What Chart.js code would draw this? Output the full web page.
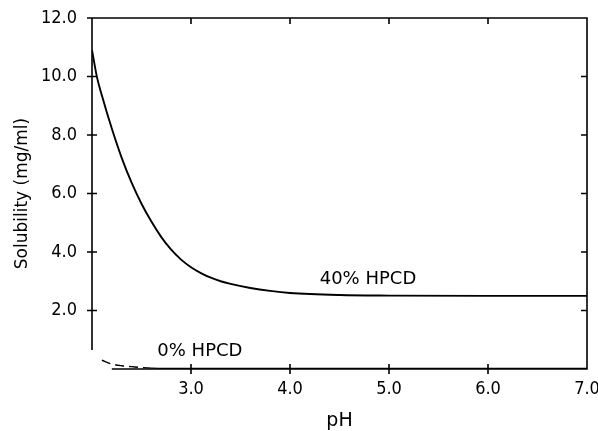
<!DOCTYPE html>
<html>
<head>
<meta charset="utf-8">
<script src="https://cdn.jsdelivr.net/npm/chart.js@4/dist/chart.umd.min.js"></script>
<style>
  html, body { margin: 0; padding: 0; background: #fff; }
  #wrap { width: 598px; height: 431px; }
</style>
</head>
<body>
<div id="wrap"><canvas id="chart" width="598" height="431"></canvas></div>
<script>
// 40% HPCD curve (pH vs solubility mg/ml)
const phHigh = [2.0, 2.05, 2.1, 2.2, 2.3, 2.4, 2.5, 2.6, 2.7, 2.8, 2.9, 3.0, 3.1, 3.2, 3.3, 3.4, 3.6, 3.8, 4.0, 4.5, 5.0, 6.0, 7.0];
const solHigh = [10.9, 9.98, 9.35, 8.22, 7.22, 6.37, 5.65, 5.04, 4.51, 4.08, 3.74, 3.48, 3.28, 3.12, 3.0, 2.91, 2.77, 2.67, 2.6, 2.53, 2.51, 2.5, 2.5];

// 0% HPCD curve
const phZero = [2.1, 2.2, 2.3, 2.4, 2.5, 2.6, 3.0, 4.0, 5.0, 6.0, 7.0];
const solZero = [0.3, 0.17, 0.11, 0.08, 0.05, 0.03, 0.02, 0.02, 0.02, 0.02, 0.02];
const dashUntil = 2.6;

const xTicks = [3, 4, 5, 6, 7];
const yTicks = [2, 4, 6, 8, 10, 12];

const labels = ['40% HPCD', '0% HPCD'];
const labelPos = [[4.3, 3.07], [2.66, 0.6]];

const FONT = '"DejaVu Sans", sans-serif';
const NARROW = '"Liberation Sans Narrow", "DejaVu Sans Condensed", "Liberation Sans", sans-serif';

// draws the broken frame with crossing / inward tick marks
const frame = {
  id: 'frame',
  afterDatasetsDraw(chart) {
    const { ctx, scales: { x, y } } = chart;
    ctx.save();
    ctx.strokeStyle = '#000';
    ctx.lineWidth = 1.6;
    ctx.beginPath();
    // left axis stops short of the corner
    ctx.moveTo(x.getPixelForValue(2), y.getPixelForValue(0.65));
    ctx.lineTo(x.getPixelForValue(2), y.getPixelForValue(12));
    ctx.lineTo(x.getPixelForValue(7), y.getPixelForValue(12));
    ctx.lineTo(x.getPixelForValue(7), y.getPixelForValue(0));
    ctx.lineTo(x.getPixelForValue(2.2), y.getPixelForValue(0));
    yTicks.forEach((v) => {
      const py = y.getPixelForValue(v);
      ctx.moveTo(x.getPixelForValue(2) - 5, py);
      ctx.lineTo(x.getPixelForValue(2) + 5, py);
      if (v < 12) {
        ctx.moveTo(x.getPixelForValue(7), py);
        ctx.lineTo(x.getPixelForValue(7) - 6, py);
      }
    });
    xTicks.forEach((v) => {
      if (v >= 7) return;
      const px = x.getPixelForValue(v);
      ctx.moveTo(px, y.getPixelForValue(0) - 5);
      ctx.lineTo(px, y.getPixelForValue(0) + 5);
      ctx.moveTo(px, y.getPixelForValue(12));
      ctx.lineTo(px, y.getPixelForValue(12) + 6);
    });
    ctx.stroke();

    ctx.fillStyle = '#000';
    ctx.font = '18px ' + FONT;
    ctx.textBaseline = 'middle';
    labels.forEach((t, i) => {
      ctx.fillText(t, x.getPixelForValue(labelPos[i][0]), y.getPixelForValue(labelPos[i][1]));
    });
    ctx.restore();
  },
};

new Chart(document.getElementById('chart'), {
  type: 'line',
  data: {
    datasets: [
      {
        label: labels[0],
        data: phHigh.map((p, i) => ({ x: p, y: solHigh[i] })),
        borderColor: '#000',
        borderWidth: 1.9,
        pointRadius: 0,
        cubicInterpolationMode: 'monotone',
      },
      {
        label: labels[1],
        data: phZero.map((p, i) => ({ x: p, y: solZero[i] })),
        borderColor: '#000',
        borderWidth: 1.4,
        pointRadius: 0,
        cubicInterpolationMode: 'monotone',
        segment: {
          borderDash: (c) => (c.p1.parsed.x <= dashUntil ? [9, 5] : undefined),
        },
      },
    ],
  },
  options: {
    responsive: false,
    animation: false,
    events: [],
    layout: { padding: { top: 18, right: 11, left: 0, bottom: 0 } },
    plugins: { legend: { display: false }, tooltip: { enabled: false } },
    scales: {
      x: {
        type: 'linear',
        min: 2,
        max: 7,
        border: { display: false },
        grid: { display: false, drawTicks: false },
        afterBuildTicks: (s) => { s.ticks = xTicks.map((v) => ({ value: v })); },
        afterFit: (s) => { s.height = 62; s.paddingLeft = 0; s.paddingRight = 0; },
        ticks: {
          color: '#000',
          padding: 10,
          maxRotation: 0,
          font: { family: NARROW, size: 18 },
          callback: (v) => v.toFixed(1),
        },
        title: {
          display: true,
          text: 'pH',
          color: '#000',
          padding: { top: 0, bottom: 0 },
          font: { family: FONT, size: 19, lineHeight: 1.0 },
        },
      },
      y: {
        min: 0,
        max: 12,
        border: { display: false },
        grid: { display: false, drawTicks: false },
        afterBuildTicks: (s) => { s.ticks = yTicks.map((v) => ({ value: v })); },
        afterFit: (s) => { s.width = 92; s.paddingTop = 0; s.paddingBottom = 0; },
        ticks: {
          color: '#000',
          padding: 15,
          font: { family: NARROW, size: 18 },
          callback: (v) => v.toFixed(1),
        },
        title: {
          display: true,
          text: 'Solubility (mg/ml)',
          color: '#000',
          padding: { top: 12, bottom: 0 },
          font: { family: FONT, size: 17 },
        },
      },
    },
  },
  plugins: [frame],
});
</script>
</body>
</html>
